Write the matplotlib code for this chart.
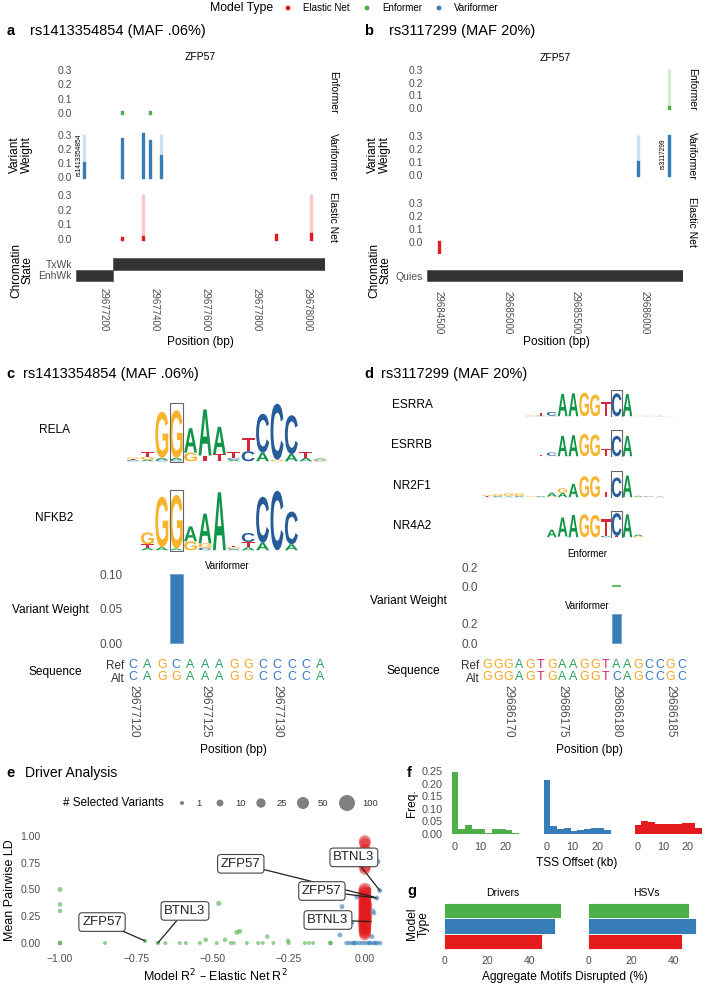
import numpy as np
import matplotlib
matplotlib.use("Agg")
import matplotlib.pyplot as plt
from matplotlib.textpath import TextPath
from matplotlib.patches import PathPatch, Rectangle
from matplotlib.font_manager import FontProperties
from matplotlib.transforms import Affine2D, offset_copy

plt.rcParams['font.family'] = ['Liberation Sans', 'DejaVu Sans']

RED, GREEN, BLUE = '#E41A1C', '#4DAF4A', '#377EB8'
LIGHT = {RED: '#F9C9C9', GREEN: '#D3EDD1', BLUE: '#CFE0F0'}
TICK = '#4D4D4D'
W, H = 708, 986

# ---------------- panel a: rs1413354854 ----------------
A_VAR_POS = [29677123, 29677271, 29677353, 29677380, 29677424]
A_VAR_W = [0.10, 0.27, 0.31, 0.26, 0.15]
A_VAR_HL = [29677123, 29677424]
A_ENF_POS = [29677271, 29677380]
A_ENF_W = [0.004, 0.01]
A_ENF_HL = []
A_EN_POS = [29677271, 29677353, 29677874, 29678012]
A_EN_W = [0.004, 0.012, 0.03, 0.035]
A_EN_HL = [29677353, 29678012]
A_CHROM = ["EnhWk", "TxWk"]
A_CHROM_START = [29677090, 29677235]
A_CHROM_END = [29677235, 29678067]
A_XTICKS = [29677200, 29677400, 29677600, 29677800, 29678000]
A_ID, A_ID_POS = "rs1413354854", 29677123

# ---------------- panel b: rs3117299 ----------------
B_VAR_POS = [29685949, 29686180]
B_VAR_W = [0.10, 0.30]
B_VAR_HL = [29685949, 29686180]
B_ENF_POS = [29686180]
B_ENF_W = [0.006]
B_ENF_HL = [29686180]
B_EN_POS = [29684500]
B_EN_W = [-0.075]
B_EN_HL = []
B_CHROM = ["Quies"]
B_CHROM_START = [29684412]
B_CHROM_END = [29686281]
B_XTICKS = [29684500, 29685000, 29685500, 29686000]
B_ID, B_ID_POS = "rs3117299", 29686180

# ---------------- panel c: motifs around rs1413354854 ----------------
C_REF = "CAGCAAAGGCCCCA"
C_ALT = "CAGGAAAGGCCCCA"
C_SEQ_START = 29677120
C_XTICKS = [29677120, 29677125, 29677130]
C_VAR_POS = [29677123]
C_VAR_W = [0.10]
RELA_START = 29677120
RELA = [
    [("C", .03), ("A", .03), ("T", .03), ("G", .04)],
    [("A", .06), ("G", .1), ("T", .15)],
    [("C", .04), ("A", .08), ("G", 1.6)],
    [("C", .04), ("A", .08), ("G", 1.65)],
    [("G", .3), ("A", .85)],
    [("T", .2), ("A", 1.6)],
    [("T", .25), ("A", .95)],
    [("A", .05), ("C", .06), ("T", .2)],
    [("C", .35), ("T", .45)],
    [("A", .3), ("C", 1.35)],
    [("G", .05), ("C", 1.95)],
    [("A", .25), ("C", 1.35)],
    [("A", .12), ("T", .2)],
    [("C", .03), ("G", .03), ("A", .04)],
]
NFKB2_START = 29677121
NFKB2 = [
    [("A", .08), ("T", .12), ("G", .4)],
    [("A", .1), ("G", 1.7)],
    [("A", .06), ("G", 1.8)],
    [("G", .3), ("A", .5)],
    [("C", .08), ("G", .15), ("A", 1.0)],
    [("A", 1.95)],
    [("A", .03), ("C", .03), ("G", .04), ("T", .04)],
    [("A", .1), ("T", .18), ("C", .3)],
    [("A", .25), ("C", 1.55)],
    [("C", 2.0)],
    [("A", .2), ("C", 1.1)],
]

# ---------------- panel d: motifs around rs3117299 ----------------
D_REF = "GGGAGTGAAGGTAAGCCGC"
D_ALT = "GGGAGTGAAGGTCAGCCGC"
D_SEQ_START = 29686168
D_XTICKS = [29686170, 29686175, 29686180, 29686185]
D_ENF_POS = [29686180]
D_ENF_W = [0.004]
D_VAR_POS = [29686180]
D_VAR_W = [0.29]
ESRRA_START = 29686172
ESRRA = [
    [("A", .03), ("G", .03)],
    [("C", .05), ("T", .2)],
    [("A", .04), ("C", .3)],
    [("A", 1.75)], [("A", 1.8)], [("G", 1.85)], [("G", 1.7)],
    [("T", 1.1)], [("C", 1.8)], [("A", 1.75)],
    [("G", .04)], [("C", .03)], [("A", .03)], [("G", .03)], [("T", .03)],
]
ESRRB_START = 29686173
ESRRB = [
    [("T", .08)], [("G", .04), ("C", .25)],
    [("A", 1.6)], [("A", 1.65)], [("G", 1.75)], [("G", 1.7)],
    [("T", .55)], [("C", 1.6)], [("A", 1.6)],
]
NR2F1_START = 29686168
NR2F1 = [
    [("A", .04), ("T", .05), ("G", .08)],
    [("A", .05), ("C", .05), ("G", .15)],
    [("A", .06), ("T", .05), ("G", .2)],
    [("A", .05), ("C", .05), ("G", .2)],
    [("T", .04), ("G", .06)],
    [("C", .04), ("A", .05)],
    [("G", .06), ("A", .3)],
    [("A", .35), ("G", .35)],
    [("A", 1.05)], [("G", 1.65)], [("G", 1.65)],
    [("T", .45)], [("C", 1.55)], [("A", 1.7)],
    [("G", .05), ("A", .06)], [("T", .04), ("C", .05)], [("A", .05)],
]
NR4A2_START = 29686174
NR4A2 = [
    [("A", .6)], [("T", .05), ("A", 1.5)], [("A", 1.75)],
    [("G", 1.8)], [("G", 1.75)], [("C", .1), ("T", 1.3)],
    [("T", .1), ("C", 1.8)], [("A", 1.8)], [("G", .08), ("A", .12)],
]

# ---------------- panel e: driver analysis ----------------
ENF_DX = [-1.0, -1.0, -1.0, -1.0, -1.0, -0.852, -0.721, -0.679, -0.654, -0.607,
          -0.587, -0.541, -0.522, -0.486, -0.479, -0.459, -0.44, -0.43, -0.42,
          -0.41, -0.387, -0.35, -0.335, -0.32, -0.30, -0.252, -0.25, -0.197,
          -0.184, -0.17, -0.113, -0.113]
ENF_LD = [0.50, 0.36, 0.30, 0.0, 0.0, 0.0, 0.02, 0.0, 0.0, 0.0,
          0.0, 0.0, 0.03, 0.0, 0.37, 0.03, 0.0, 0.0, 0.10,
          0.11, 0.0, 0.0, 0.0, 0.06, 0.0, 0.02, 0.0, 0.0,
          0.0, 0.0, 0.0, 0.0]
ENF_N = [3, 2, 2, 2, 2, 1, 2, 2, 1, 1, 1, 1, 2, 1, 4, 2, 1, 1, 3, 3, 1, 1, 1,
         2, 1, 2, 1, 1, 1, 1, 2, 2]
VAR_DX = [-0.082, -0.075, -0.043, -0.026, 0.049, 0.039, 0.043, 0.026, 0.023,
          0.03, 0.012, -0.06, -0.05, -0.04, -0.03, -0.02, -0.01, 0.0, 0.01,
          0.02, 0.03, 0.04, 0.05, -0.035, 0.015, 0.035]
VAR_LD = [0.075, 0.34, 0.19, 0.43, 0.49, 0.42, 0.76, 0.30, 0.06,
          0.28, 0.50, 0.0, 0.0, 0.0, 0.0, 0.0, 0.0, 0.0, 0.0,
          0.0, 0.0, 0.0, 0.0, 0.0, 0.0, 0.0]
VAR_N = [3, 3, 3, 3, 3, 3, 3, 3, 3, 2, 2, 2, 2, 2, 2, 2, 2, 2, 2, 2, 2, 2, 2,
         2, 2, 2]
EN_DX = [0.0, 0.0, 0.0, 0.0, 0.0, 0.0, 0.0,
         0.0, 0.0, 0.0, 0.0, 0.0, 0.0, 0.0, 0.0, 0.0, 0.0, 0.0,
         0.0, 0.0, 0.0, 0.0, 0.0, 0.0, 0.0, 0.0, 0.0, 0.0, 0.0, 0.003, 0.003]
EN_LD = [0.95, 0.93, 0.87, 0.82, 0.77, 0.72, 0.69,
         0.50, 0.48, 0.46, 0.44, 0.42, 0.40, 0.38, 0.36, 0.34, 0.32, 0.30,
         0.28, 0.26, 0.24, 0.22, 0.20, 0.18, 0.16, 0.14, 0.12, 0.10, 0.08, 0.25, 0.35]
EN_N = [50, 40, 45, 50, 45, 55, 40,
        60, 55, 60, 55, 60, 55, 60, 55, 60, 60, 55,
        60, 55, 60, 60, 70, 60, 55, 60, 55, 50, 45, 60, 60]
E_LABELS = ["ZFP57", "BTNL3", "ZFP57", "ZFP57", "BTNL3", "BTNL3"]
E_LABEL_XY = [(-0.862, 0.196), (-0.59, 0.30), (-0.407, 0.74), (-0.141, 0.486),
              (-0.036, 0.80), (-0.121, 0.215)]
E_POINT_XY = [(-0.721, 0.02), (-0.679, 0.0), (0.030, 0.43), (0.039, 0.42),
              (0.049, 0.49), (0.02, 0.20)]
E_SIZE_BREAKS = [1, 10, 25, 50, 100]

# ---------------- panel f: TSS offset histograms ----------------
F_BIN_LEFT = [-1.4, 1.3, 4.0, 6.7, 9.4, 12.1, 14.8, 17.5, 20.2, 22.9]
F_BIN_WIDTH = 2.7
F_ENF = [0.245, 0.02, 0.037, 0.02, 0.02, 0.004, 0.02, 0.02, 0.015, 0.003]
F_VAR = [0.215, 0.03, 0.02, 0.025, 0.01, 0.016, 0.021, 0.025, 0.025, 0.015]
F_EN = [0.035, 0.053, 0.047, 0.041, 0.038, 0.038, 0.04, 0.042, 0.043, 0.025]

# ---------------- panel g: motifs disrupted ----------------
G_MODELS = ["Elastic Net", "Variformer", "Enformer"]
G_DRIVERS = [45.5, 52.0, 54.4]
G_HSVS = [44.0, 50.6, 47.0]

MODEL_COLORS = [RED, GREEN, BLUE]
MODEL_NAMES = ["Elastic Net", "Enformer", "Variformer"]
BASE_COL = {'A': '#109648', 'C': '#255C99', 'G': '#F7B32B', 'T': '#D62839'}
SEQ_COL = {'A': '#2CA25F', 'C': '#3A78C0', 'G': '#F5A623', 'T': '#E0245A'}
LOGO_FP = FontProperties(family='Liberation Sans', weight='bold')

fig = plt.figure(figsize=(W / 100, H / 100), dpi=100)


def add_ax(x0, y0, x1, y1, ts=7.5):
    ax = fig.add_axes([x0 / W, 1 - y1 / H, (x1 - x0) / W, (y1 - y0) / H])
    ax.set_facecolor('none')
    for s in ax.spines.values():
        s.set_visible(False)
    ax.tick_params(length=0, labelsize=ts, labelcolor=TICK, pad=3)
    return ax


def track(x0, x1, zero_y, k, xlim, pos, w, hl, color, lo=-0.05, hi=0.355):
    ax = add_ax(x0, zero_y - hi * k, x1, zero_y - lo * k)
    if hl:
        ax.vlines(hl, 0, 0.31, color=LIGHT[color], lw=2.4, zorder=1)
    ax.vlines(pos, 0, w, color=color, lw=2.4, zorder=2, capstyle='projecting')
    ax.set_xlim(xlim)
    ax.set_ylim(lo, hi)
    ax.set_xticks([])
    ax.set_yticks([0, .1, .2, .3], ['0.0', '0.1', '0.2', '0.3'])
    return ax


def chrom(x0, y0, x1, y1, xlim, ylim, names, starts, ends, xticks):
    ax = add_ax(x0, y0, x1, y1)
    idx = range(len(names))
    ax.barh(idx, np.array(ends) - np.array(starts), left=starts, height=1.0,
            color='#333333', edgecolor='#5a5a5a', lw=0.6)
    ax.set_xlim(xlim)
    ax.set_ylim(ylim)
    ax.set_yticks(list(idx), names)
    ax.set_xticks(xticks, [str(t) for t in xticks], rotation=270, fontsize=7)
    ax.tick_params(axis='x', pad=3)
    return ax


def draw_logo(ax, start, cols, width=0.9):
    for i, col in enumerate(cols):
        y = 0.0
        for ch, h in col:
            tp = TextPath((0, 0), ch, size=1, prop=LOGO_FP)
            bb = tp.get_extents()
            tr = (Affine2D().translate(-bb.x0, -bb.y0)
                  .scale(width / bb.width, h / bb.height)
                  .translate(start + i - width / 2, y))
            ax.add_patch(PathPatch(tr.transform_path(tp), fc=BASE_COL[ch], ec='none'))
            y += h


def logo_ax(y0, y1, xlim, start, cols, var_pos, box_w=0.95):
    ax = add_ax(xlim[2], y0, xlim[3], y1)
    draw_logo(ax, start, cols)
    ax.add_patch(Rectangle((var_pos - box_w / 2, -0.03), box_w, 2.06, fill=False,
                           ec='#666666', lw=0.8))
    ax.set_xlim(xlim[0], xlim[1])
    ax.set_ylim(-0.06, 2.06)
    ax.set_xticks([])
    ax.set_yticks([])
    return ax


def seq_ax(y0, y1, xlim, start, ref, alt, xticks):
    ax = add_ax(xlim[2], y0, xlim[3], y1, ts=8.5)
    for i, (r, a) in enumerate(zip(ref, alt)):
        ax.text(start + i, 1, r, color=SEQ_COL[r], ha='center', va='center', fontsize=9)
        ax.text(start + i, 0, a, color=SEQ_COL[a], ha='center', va='center', fontsize=9)
    ax.set_xlim(xlim[0], xlim[1])
    ax.set_ylim(-0.5, 1.5)
    ax.set_yticks([0, 1], ['Alt', 'Ref'])
    ax.tick_params(axis='y', labelcolor='#333333', pad=2)
    ax.set_xticks(xticks, [str(t) for t in xticks], rotation=270, fontsize=8.5)
    ax.tick_params(axis='x', pad=1)
    return ax


# ---------------- draw panel a ----------------
a_xlim = (29677090, 29678067)
ax = track(76, 325, 113, 143, a_xlim, A_ENF_POS, A_ENF_W, A_ENF_HL, GREEN)
ax.set_title('ZFP57', fontsize=7.5, pad=1)
ax = track(76, 325, 177, 140, a_xlim, A_VAR_POS, A_VAR_W, A_VAR_HL, BLUE)
ax.text(A_ID_POS, 0.16, A_ID, rotation=90, ha='right', va='center', fontsize=4.8,
        transform=offset_copy(ax.transData, fig=fig, x=-2, units='dots'))
track(76, 325, 239, 146, a_xlim, A_EN_POS, A_EN_W, A_EN_HL, RED)
chrom(76, 255, 325, 284, a_xlim, (-0.75, 1.75), A_CHROM, A_CHROM_START,
      A_CHROM_END, A_XTICKS)

# ---------------- draw panel b ----------------
b_xlim = (29684412, 29686281)
ax = track(427, 683, 108, 127, b_xlim, B_ENF_POS, B_ENF_W, B_ENF_HL, GREEN)
ax.set_title('ZFP57', fontsize=7.5, pad=1)
ax = track(427, 683, 175, 130, b_xlim, B_VAR_POS, B_VAR_W, B_VAR_HL, BLUE)
ax.text(B_ID_POS, 0.16, B_ID, rotation=90, ha='right', va='center', fontsize=4.8,
        transform=offset_copy(ax.transData, fig=fig, x=-3, units='dots'))
track(427, 683, 242, 130, b_xlim, B_EN_POS, B_EN_W, B_EN_HL, RED, lo=-0.09)
chrom(427, 264, 683, 287, b_xlim, (-1, 1), B_CHROM, B_CHROM_START,
      B_CHROM_END, B_XTICKS)

# ---------------- draw panel c ----------------
c_xlim = (C_SEQ_START - 6 / 14.4, C_SEQ_START + 194 / 14.4, 127, 327)
logo_ax(402, 463, c_xlim, RELA_START, RELA, C_VAR_POS[0], 0.92)
logo_ax(489, 552, c_xlim, NFKB2_START, NFKB2, C_VAR_POS[0], 0.92)
ax = add_ax(127, 572, 327, 650, ts=8.5)
ax.bar(C_VAR_POS, C_VAR_W, width=0.92, color=BLUE, edgecolor='#6fa3d2', lw=0.6)
ax.set_xlim(c_xlim[0], c_xlim[1])
ax.set_ylim(-0.01, 0.103)
ax.set_xticks([])
ax.set_yticks([0, 0.05, 0.10], ['0.00', '0.05', '0.10'])
ax.set_title('Variformer', fontsize=7, pad=2)
seq_ax(658, 684, c_xlim, C_SEQ_START, C_REF, C_ALT, C_XTICKS)

# ---------------- draw panel d ----------------
d_xlim = (D_SEQ_START - 5 / 10.8, D_SEQ_START + 205 / 10.8, 482, 692)
logo_ax(390, 417, d_xlim, ESRRA_START, ESRRA, D_VAR_POS[0])
logo_ax(430, 457, d_xlim, ESRRB_START, ESRRB, D_VAR_POS[0])
logo_ax(471, 498, d_xlim, NR2F1_START, NR2F1, D_VAR_POS[0])
logo_ax(511, 538, d_xlim, NR4A2_START, NR4A2, D_VAR_POS[0])
ax = add_ax(482, 560, 692, 592, ts=8.5)
ax.bar(D_ENF_POS, D_ENF_W, width=0.9, color=GREEN, edgecolor=GREEN, lw=1.2)
ax.set_xlim(d_xlim[0], d_xlim[1])
ax.set_ylim(-0.063, 0.274)
ax.set_xticks([])
ax.set_yticks([0, 0.2], ['0.0', '0.2'])
ax.set_title('Enformer', fontsize=7, pad=2)
ax = add_ax(482, 612, 692, 650, ts=8.5)
ax.bar(D_VAR_POS, D_VAR_W, width=0.9, color=BLUE, edgecolor='#6fa3d2', lw=0.6)
ax.set_xlim(d_xlim[0], d_xlim[1])
ax.set_ylim(-0.07, 0.31)
ax.set_xticks([])
ax.set_yticks([0, 0.2], ['0.0', '0.2'])
ax.set_title('Variformer', fontsize=7, pad=2)
seq_ax(658, 684, d_xlim, D_SEQ_START, D_REF, D_ALT, D_XTICKS)


# ---------------- draw panel e ----------------
def msize(n):
    d = 4 + (np.sqrt(np.asarray(n, float)) - 1) * 1.33
    return (d * 0.72) ** 2


ax = add_ax(45, 826, 385, 950)
ax.scatter(ENF_DX, ENF_LD, s=msize(ENF_N), color=GREEN, alpha=0.6, lw=0)
ax.scatter(VAR_DX, VAR_LD, s=msize(VAR_N), color=BLUE, alpha=0.6, lw=0)
ax.scatter(EN_DX, EN_LD, s=msize(EN_N), color=RED, alpha=0.55, lw=0)
for lab, (tx, ty), (px, py) in zip(E_LABELS, E_LABEL_XY, E_POINT_XY):
    ax.annotate(lab, xy=(px, py), xytext=(tx, ty), ha='center', va='center',
                fontsize=9.5, color='#222222',
                bbox=dict(boxstyle='round,pad=0.25', fc='white', ec='#444444', lw=0.8),
                arrowprops=dict(arrowstyle='-', color='#222222', lw=0.9,
                                shrinkA=0, shrinkB=0))
ax.set_xlim(-1.049, 0.066)
ax.set_ylim(-0.065, 1.093)
ax.set_xticks([-1, -0.75, -0.5, -0.25, 0], ['\u22121.00', '\u22120.75', '\u22120.50',
                                             '\u22120.25', '0.00'])
ax.set_yticks([0, 0.25, 0.5, 0.75, 1.0], ['0.00', '0.25', '0.50', '0.75', '1.00'])

# ---------------- draw panel f ----------------
for i, (vals, color, x0) in enumerate(zip([F_ENF, F_VAR, F_EN], [GREEN, BLUE, RED],
                                          [447, 539, 630])):
    ax = add_ax(x0, 766, x0 + 75, 838, ts=7.8)
    ax.bar(F_BIN_LEFT, vals, width=F_BIN_WIDTH, align='edge', color=color, lw=0)
    ax.set_xlim(-3.2, 26.8)
    ax.set_ylim(-0.016, 0.27)
    ax.set_xticks([0, 10, 20], ['0', '10', '20'])
    if i == 0:
        ax.set_yticks([0, .05, .1, .15, .2, .25],
                      ['0.00', '0.05', '0.10', '0.15', '0.20', '0.25'])
    else:
        ax.set_yticks([])

# ---------------- draw panel g ----------------
for vals, title, x0 in zip([G_DRIVERS, G_HSVS], ['Drivers', 'HSVs'], [441, 585]):
    ax = add_ax(x0, 900, x0 + 123, 952)
    ax.barh(range(3), vals, height=1.0, color=[RED, BLUE, GREEN],
            edgecolor='white', lw=0.6)
    ax.set_xlim(-1.4, 56)
    ax.set_ylim(-0.7, 2.7)
    ax.set_yticks([])
    ax.set_xticks([0, 20, 40], ['0', '20', '40'])
    ax.set_title(title, fontsize=7.5, pad=3)

# ---------------- free text layer ----------------
lay = fig.add_axes([0, 0, 1, 1])
lay.set_xlim(0, W)
lay.set_ylim(H, 0)
lay.axis('off')


def t(x, y, s, **kw):
    kw.setdefault('va', 'center')
    lay.text(x, y, s, **kw)


# legend
t(273, 8, 'Model Type', ha='right', fontsize=8.8)
lay.scatter([288, 367, 439], [8, 8, 8], s=12, color=MODEL_COLORS, lw=0)
for x, name in zip([303, 382, 454], MODEL_NAMES):
    t(x, 8, name, fontsize=7)

# panel labels and titles
for x, y, lab in [(7, 31, 'a'), (364, 31, 'b'), (6, 374, 'c'), (364, 374, 'd'),
                  (6, 773, 'e'), (407, 773, 'f'), (407, 891, 'g')]:
    t(x, y, lab, fontsize=10.5, weight='bold')
t(30, 31, 'rs1413354854 (MAF .06%)', fontsize=10.5)
t(389, 31, 'rs3117299 (MAF 20%)', fontsize=10.5)
t(23, 374, 'rs1413354854 (MAF .06%)', fontsize=10.5)
t(381, 374, 'rs3117299 (MAF 20%)', fontsize=10.5)
t(25, 773, 'Driver Analysis', fontsize=10)

# panel a/b axis titles and strips
for xc in (21, 379):
    t(xc, 155, 'Variant\nWeight', ha='center', rotation=90, fontsize=8.6, linespacing=0.95)
    t(xc + 1, 270, 'Chromatin\nState', ha='center', rotation=90, fontsize=8.6,
      linespacing=0.95)
for xs, ys in [(333, (92, 157, 217)), (692, (89, 156, 222))]:
    for y, name in zip(ys, ['Enformer', 'Variformer', 'Elastic Net']):
        t(xs, y, name, ha='center', rotation=270, fontsize=7.5)
t(200, 342, 'Position (bp)', ha='center', fontsize=8.6)
t(556, 342, 'Position (bp)', ha='center', fontsize=8.6)

# panel c/d row titles
t(54, 430, 'RELA', ha='center', fontsize=8.6)
t(54, 518, 'NFKB2', ha='center', fontsize=8.6)
t(50, 610, 'Variant Weight', ha='center', fontsize=8.6)
t(55, 672, 'Sequence', ha='center', fontsize=8.6)
t(233, 750, 'Position (bp)', ha='center', fontsize=8.6)
for y, name in zip([405, 445, 486, 526], ['ESRRA', 'ESRRB', 'NR2F1', 'NR4A2']):
    t(412, y, name, ha='center', fontsize=8.6)
t(408, 601, 'Variant Weight', ha='center', fontsize=8.6)
t(413, 671, 'Sequence', ha='center', fontsize=8.6)
t(589, 750, 'Position (bp)', ha='center', fontsize=8.6)

# panel e legend and axis titles
t(63, 803, '# Selected Variants', fontsize=8.5)
lay.scatter([182, 220, 261, 303, 347], [803] * 5, s=msize(E_SIZE_BREAKS),
            color='#555555', alpha=0.75, lw=0)
for x, n in zip([196, 235, 276, 318, 362], E_SIZE_BREAKS):
    t(x, 803, str(n), fontsize=6.8, color='#333333')
t(10, 890, 'Mean Pairwise LD', ha='center', rotation=90, fontsize=9)
t(215, 976, 'Model R$^2$ \u2013 Elastic Net R$^2$', ha='center', fontsize=9)

# panel f/g axis titles
t(412, 803, 'Freq.', ha='center', rotation=90, fontsize=8.6)
t(577, 863, 'TSS Offset (kb)', ha='center', fontsize=8.6)
t(418, 924, 'Model\nType', ha='center', rotation=90, fontsize=8.6, linespacing=0.95)
t(565, 977, 'Aggregate Motifs Disrupted (%)', ha='center', fontsize=8.6)

fig.savefig('out.png', dpi=100)
